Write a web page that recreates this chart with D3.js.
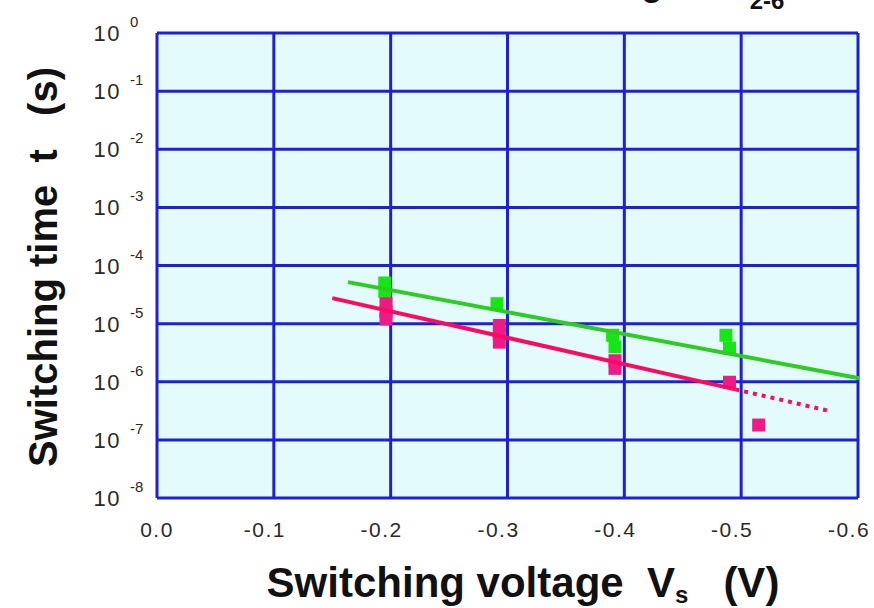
<!DOCTYPE html>
<html>
<head>
<meta charset="utf-8">
<script src="https://cdn.jsdelivr.net/npm/d3@7"></script>
<style>
  body { margin: 0; background: #fff; }
  svg { display: block; }
</style>
</head>
<body>
<svg width="874" height="608"></svg>
<script>
// tick values
const xTicks = [0, -0.1, -0.2, -0.3, -0.4, -0.5, -0.6];
const yExps = [0, -1, -2, -3, -4, -5, -6, -7, -8];

// measured switching times (green series)
const greenV = [-0.195, -0.195, -0.291, -0.390, -0.392, -0.487, -0.490];
const greenT = [5.0e-5, 3.6e-5, 2.2e-5, 6.3e-6, 4.0e-6, 6.3e-6, 3.8e-6];

// measured switching times (red series)
const redV = [-0.196, -0.196, -0.196, -0.293, -0.293, -0.293, -0.392, -0.392, -0.490, -0.515];
const redT = [2.2e-5, 1.6e-5, 1.2e-5, 9.3e-6, 6.6e-6, 4.8e-6, 2.3e-6, 1.7e-6, 9.8e-7, 1.8e-7];

// fitted lines
const greenFitV = [-0.1635, -0.601];
const greenFitT = [5.18e-5, 1.15e-6];
const redFitV = [-0.150, -0.495];
const redFitT = [2.75e-5, 7.4e-7];
const redExtV = [-0.495, -0.574];
const redExtT = [7.4e-7, 3.2e-7];

const svg = d3.select("svg");
const margin = { top: 33, right: 16, bottom: 110, left: 157 };
const width = +svg.attr("width") - margin.left - margin.right;
const height = +svg.attr("height") - margin.top - margin.bottom;

const g = svg.append("g").attr("transform", "translate(" + margin.left + "," + margin.top + ")");

const x = d3.scaleLinear().domain([0, -0.6]).range([0, width]);
const y = d3.scaleLog().domain([1, 1e-8]).range([0, height]);

// background
g.append("rect")
    .attr("width", width)
    .attr("height", height)
    .attr("fill", "#e4fbfb");

const gridColor = "#1f1fd8";

g.selectAll(".vgrid")
    .data(xTicks)
    .enter().append("line")
    .attr("x1", d => x(d)).attr("x2", d => x(d))
    .attr("y1", 0).attr("y2", height)
    .attr("stroke", gridColor)
    .attr("stroke-width", 3);

g.selectAll(".hgrid")
    .data(yExps)
    .enter().append("line")
    .attr("x1", 0).attr("x2", width)
    .attr("y1", d => y(Math.pow(10, d))).attr("y2", d => y(Math.pow(10, d)))
    .attr("stroke", gridColor)
    .attr("stroke-width", 3);

// x tick labels
g.selectAll(".xlab")
    .data(xTicks)
    .enter().append("text")
    .attr("x", d => x(d) - (d < 0 ? 9 : 0))
    .attr("y", height + 39)
    .attr("text-anchor", "middle")
    .attr("font-family", "Liberation Sans, Arial, sans-serif")
    .attr("font-size", 21)
    .attr("letter-spacing", 1.5)
    .attr("fill", "#2a2a2a")
    .text(d => d3.format(".1f")(d).replace("−", "-"));

// y tick labels: 10 with superscript exponent
const ylab = g.selectAll(".ylab")
    .data(yExps)
    .enter().append("g")
    .attr("transform", d => "translate(0," + y(Math.pow(10, d)) + ")");

ylab.append("text")
    .attr("x", -36)
    .attr("y", 8)
    .attr("text-anchor", "end")
    .attr("font-family", "Liberation Sans, Arial, sans-serif")
    .attr("font-size", 22)
    .attr("letter-spacing", 1.5)
    .attr("fill", "#2a2a2a")
    .text("10");

ylab.append("text")
    .attr("x", -27)
    .attr("y", -6)
    .attr("text-anchor", "start")
    .attr("font-family", "Liberation Sans, Arial, sans-serif")
    .attr("font-size", 15)
    .attr("fill", "#2a2a2a")
    .text(d => d === 0 ? "0" : "-" + Math.abs(d));

// points
const sq = 13;
g.selectAll(".gpt")
    .data(greenV.map((v, i) => [v, greenT[i]]))
    .enter().append("rect")
    .attr("x", d => x(d[0]) - sq / 2)
    .attr("y", d => y(d[1]) - sq / 2)
    .attr("width", sq).attr("height", sq)
    .attr("fill", "#16e616");

g.selectAll(".rpt")
    .data(redV.map((v, i) => [v, redT[i]]))
    .enter().append("rect")
    .attr("x", d => x(d[0]) - sq / 2)
    .attr("y", d => y(d[1]) - sq / 2)
    .attr("width", sq).attr("height", sq)
    .attr("fill", "#ee1a88");

const line = d3.line()
    .x(d => x(d[0]))
    .y(d => y(d[1]));

g.append("path")
    .datum(greenFitV.map((v, i) => [v, greenFitT[i]]))
    .attr("fill", "none")
    .attr("stroke", "#2ccc22")
    .attr("stroke-width", 4)
    .attr("d", line);

g.append("path")
    .datum(redFitV.map((v, i) => [v, redFitT[i]]))
    .attr("fill", "none")
    .attr("stroke", "#ff0a60")
    .attr("stroke-width", 4)
    .attr("d", line);

g.append("path")
    .datum(redExtV.map((v, i) => [v, redExtT[i]]))
    .attr("fill", "none")
    .attr("stroke", "#ff0a60")
    .attr("stroke-width", 4)
    .attr("stroke-dasharray", "4 5")
    .attr("d", line);

// axis titles
svg.append("text")
    .attr("transform", "translate(57,267) rotate(-90)")
    .attr("text-anchor", "middle")
    .attr("font-family", "Liberation Sans, Arial, sans-serif")
    .attr("font-weight", "bold")
    .attr("font-size", 40)
    .attr("fill", "#111")
    .attr("xml:space", "preserve")
    .text("Switching time  t   (s)");

const xt = svg.append("text")
    .attr("x", 523)
    .attr("y", 597)
    .attr("text-anchor", "middle")
    .attr("font-family", "Liberation Sans, Arial, sans-serif")
    .attr("font-weight", "bold")
    .attr("font-size", 42)
    .attr("fill", "#111")
    .attr("xml:space", "preserve");
xt.append("tspan").text("Switching voltage  V");
xt.append("tspan").attr("font-size", 24).attr("dy", 6).text("s");
xt.append("tspan").attr("dy", -6).text("   (V)");

// title fragment cut at top edge
svg.append("text")
    .attr("x", 652).attr("y", -4)
    .attr("text-anchor", "middle")
    .attr("font-family", "Liberation Sans, Arial, sans-serif")
    .attr("font-weight", "bold")
    .attr("font-size", 34)
    .attr("fill", "#111")
    .text("g");

svg.append("text")
    .attr("x", 767).attr("y", 9)
    .attr("text-anchor", "middle")
    .attr("font-family", "Liberation Sans, Arial, sans-serif")
    .attr("font-weight", "bold")
    .attr("font-size", 24)
    .attr("fill", "#111")
    .text("2-6");
</script>
</body>
</html>
